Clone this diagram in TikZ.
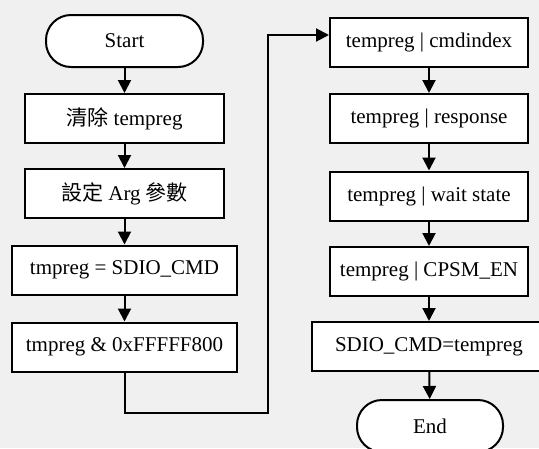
\documentclass[tikz,border=0pt]{standalone}
\usepackage{fontspec}
\setmainfont{Liberation Serif}
\newfontfamily\cjk{Noto Sans CJK TC}
\usetikzlibrary{arrows.meta}
\definecolor{pagebg}{HTML}{F0F0F0}
\begin{document}
\begin{tikzpicture}[x=1pt, y=-1pt, line width=2pt, line cap=butt,
  every node/.style={font=\fontsize{21}{25}\selectfont},
  >={Triangle[length=13pt,width=13pt]},
  op/.style={draw, fill=white, minimum height=49pt, inner sep=0pt},
  term/.style={draw, fill=white, rounded corners=25pt, minimum height=52pt, inner sep=0pt}]

\fill[pagebg] (0,0) rectangle (539,448);
\useasboundingbox (0,0) rectangle (539,448);

% ---------- left column ----------
\node[term, minimum width=157pt] (start) at (124.5,41) {Start};
\node[op, minimum width=199pt] (clr) at (124.5,118.5) {{\cjk 清除} tempreg};
\node[op, minimum width=199pt] (arg) at (124.5,193.5) {{\cjk 設定} Arg {\cjk 參數}};
\node[op, minimum width=225pt] (rd) at (124.5,270) {tmpreg = SDIO\_CMD};
\node[op, minimum width=225pt] (msk) at (124.5,347) {tmpreg \& 0xFFFFF800};
\draw[->] (start) -- (clr);
\draw[->] (clr) -- (arg);
\draw[->] (arg) -- (rd);
\draw[->] (rd) -- (msk);

% ---------- right column ----------
\node[op, minimum width=198pt] (idx) at (429,42) {tempreg | cmdindex};
\node[op, minimum width=198pt] (rsp) at (429,118.5) {tempreg | response};
\node[op, minimum width=198pt] (wst) at (429,196) {tempreg | wait state};
\node[op, minimum width=198pt] (cps) at (429,271.5) {tempreg | CPSM\_EN};
\node[op, minimum width=234pt] (wr) at (429,346.5) {SDIO\_CMD=tempreg};
\node[term, minimum width=146pt] (stop) at (430,426) {End};
\draw[->] (idx) -- (rsp);
\draw[->] (rsp) -- (wst);
\draw[->] (wst) -- (cps);
\draw[->] (cps) -- (wr);
\draw[->] (wr) -- (stop);

% loop over to the second column
\coordinate (tgt) at ([yshift=7pt]idx.west);
\draw[->, line join=miter] (msk.south) -- (124.5,413) -- (268,413) |- (tgt);

\end{tikzpicture}
\end{document}
